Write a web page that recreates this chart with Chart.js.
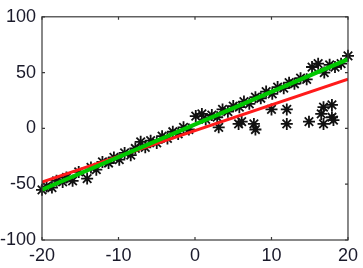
<!DOCTYPE html>
<html>
<head>
<meta charset="utf-8">
<script src="https://cdn.jsdelivr.net/npm/chart.js@4.4.0/dist/chart.umd.min.js"></script>
<style>
html,body{margin:0;padding:0;background:#fff;}
#wrap{width:363px;height:268px;}
</style>
</head>
<body>
<div id="wrap"><canvas id="c" width="363" height="268"></canvas></div>
<script>
// ----- data -----
const inlierX = [-20,-19.4,-18.7,-18.1,-17.3,-16.8,-16.0,-15.2,-14.1,-13.6,-12.9,-12.1,-11.3,-10.6,-9.9,-9.2,-8.4,-7.8,-7.1,-6.5,-5.8,-5.0,-4.3,-3.6,-2.9,-2.2,-1.5,-0.8,0.1,0.9,1.4,2.2,2.9,3.6,4.3,5.0,5.8,6.4,7.1,7.9,8.6,9.3,10.1,10.8,11.6,12.3,13.0,13.8,14.6,15.3,16.1,16.9,17.6,18.3,19.1,20];
const inlierY = [-55,-52,-53,-47,-48,-44,-47,-39,-45,-35,-37,-30,-31,-26,-28,-22,-24,-18,-12,-17,-11,-13,-7,-9,-3,-5,1,-1,11,13,8,12,10,17,15,20,19,24,22,28,27,33,31,37,36,41,40,45,44,55,58,50,57,55,58,65];
const outlierX = [3.1,5.7,6.1,7.7,7.9,10.0,12.0,12.0,14.9,16.5,16.8,17.9,17.9,16.8,18.1];
const outlierY = [1,4,6,4,-1,17,17,4,6,13,19,21,10,4,7.5];
const greenLineX = [-20, 20];
const greenLineY = [-55, 62];
const redLineX = [-20, 20];
const redLineY = [-48, 44];
const xTicks = [-20,-10,0,10,20];
const yTicks = [-100,-50,0,50,100];

const toPts = (xs, ys) => xs.map((x, i) => ({x: x, y: ys[i]}));
const starPts = toPts(inlierX, inlierY).concat(toPts(outlierX, outlierY));

const boxPlugin = {
  id: 'boxTicks',
  afterDraw(chart) {
    const ctx = chart.ctx, a = chart.chartArea;
    const xs = chart.scales.x, ys = chart.scales.y;
    ctx.save();
    ctx.strokeStyle = '#3a3a3a';
    ctx.lineWidth = 1.2;
    ctx.strokeRect(a.left, a.top, a.right - a.left, a.bottom - a.top);
    const L = 3;
    ctx.beginPath();
    xTicks.forEach(v => {
      const p = xs.getPixelForValue(v);
      ctx.moveTo(p, a.bottom); ctx.lineTo(p, a.bottom - L);
      ctx.moveTo(p, a.top); ctx.lineTo(p, a.top + L);
    });
    yTicks.forEach(v => {
      const p = ys.getPixelForValue(v);
      ctx.moveTo(a.left, p); ctx.lineTo(a.left + L, p);
      ctx.moveTo(a.right, p); ctx.lineTo(a.right - L, p);
    });
    ctx.stroke();
    ctx.restore();
  }
};

new Chart(document.getElementById('c'), {
  type: 'scatter',
  data: {
    datasets: [
      {
        label: 'fit',
        data: toPts(greenLineX, greenLineY),
        showLine: true,
        borderColor: '#00c800',
        borderWidth: 4,
        pointRadius: 0,
        order: 0
      },
      {
        label: 'ls',
        data: toPts(redLineX, redLineY),
        showLine: true,
        borderColor: '#ff1a1a',
        borderWidth: 3,
        pointRadius: 0,
        order: 1
      },
      {
        label: 'data',
        data: starPts,
        pointStyle: 'star',
        pointRadius: 6,
        borderColor: '#111',
        backgroundColor: '#111',
        borderWidth: 1.8,
        clip: false,
        order: 2
      }
    ]
  },
  options: {
    responsive: false,
    animation: false,
    events: [],
    layout: { padding: { top: 13, right: 13, left: 0, bottom: 0 } },
    plugins: { legend: { display: false }, tooltip: { enabled: false } },
    scales: {
      x: {
        type: 'linear', min: -20, max: 20,
        afterBuildTicks: s => { s.ticks = xTicks.map(v => ({value: v})); },
        afterFit: s => { s.height = 28; },
        grid: { display: false, drawTicks: false },
        border: { display: false },
        ticks: { color: '#1a1a2a', padding: 5, font: { family: 'Liberation Sans, Arial, sans-serif', size: 18 } }
      },
      y: {
        type: 'linear', min: -100, max: 100,
        afterBuildTicks: s => { s.ticks = yTicks.map(v => ({value: v})); },
        afterFit: s => { s.width = 42; },
        grid: { display: false, drawTicks: false },
        border: { display: false },
        ticks: { color: '#1a1a2a', padding: 6, font: { family: 'Liberation Sans, Arial, sans-serif', size: 18 } }
      }
    }
  },
  plugins: [boxPlugin]
});
</script>
</body>
</html>
